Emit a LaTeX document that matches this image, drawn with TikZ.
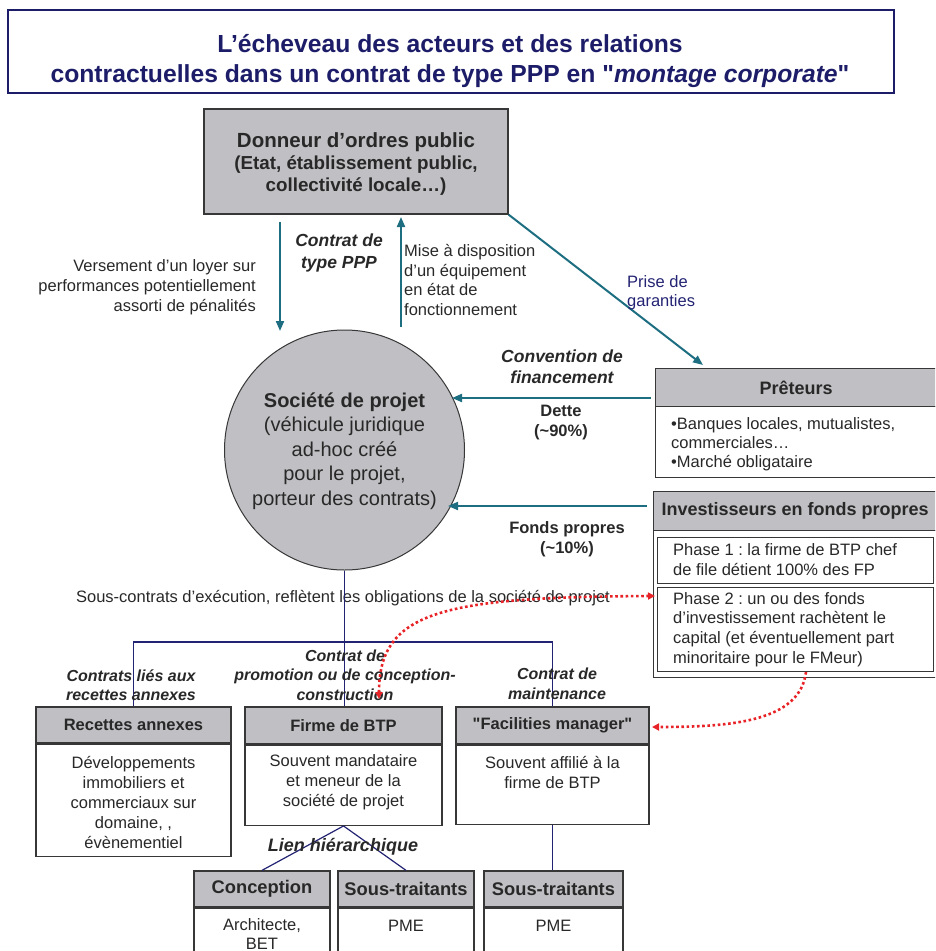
\documentclass[tikz,border=0pt]{standalone}
\usepackage{fontspec}
\setmainfont{Liberation Sans}[Ligatures=TeXOff]
\usetikzlibrary{arrows.meta}
\definecolor{arrowteal}{RGB}{30,110,130}
\definecolor{linenavy}{RGB}{35,35,115}
\definecolor{titlenavy}{RGB}{28,28,105}
\definecolor{boxgray}{RGB}{192,192,196}
\definecolor{txtgray}{RGB}{40,40,40}
\definecolor{boxline}{RGB}{55,55,55}
\definecolor{dotred}{RGB}{232,35,40}
\newcommand{\fs}[2]{\fontsize{#1}{#2}\selectfont}
\frenchspacing
\begin{document}
\begin{tikzpicture}[x=1pt,y=-1pt,
  hdr/.style={draw=boxline, line width=1.3pt, fill=boxgray, text=txtgray, font=\fs{16.5}{20}\bfseries, inner sep=0pt},
  bodybox/.style={draw=boxline, line width=1.3pt, fill=white, inner sep=0pt},
  lbl/.style={text=txtgray, align=center, inner sep=0pt, font=\fs{16.5}{20}},
  ital/.style={lbl, font=\fs{16}{19.5}\bfseries\itshape},
  tarrow/.style={draw=arrowteal, line width=2pt, -{Triangle[length=10pt,width=8pt]}},
  navyline/.style={draw=linenavy, line width=1.2pt},
  reddots/.style={draw=dotred, line width=2.6pt, dash pattern=on 2.6pt off 2.6pt},
]
\path[use as bounding box, clip] (0,0) rectangle (935,951);

% title
\node[draw=titlenavy, line width=2pt, minimum width=886pt, minimum height=83pt, inner sep=0pt] (titlebox) at (451,51.5) {};
\node[lbl, text=titlenavy, font=\fs{24.7}{30}\bfseries] (title) at (450,61) {L’écheveau des acteurs et des relations\\contractuelles dans un contrat de type PPP en "\textit{montage corporate}"};

% public authority
\node[hdr, minimum width=304pt, minimum height=105pt] (don) at (356,161.5) {};
\node[lbl, font=\fs{18.8}{22}\bfseries] (dontxt) at (356,164) {{\fs{20.5}{22}Donneur d’ordres public}\\(Etat, établissement public,\\collectivité locale…)};

% project company
\node[circle, draw=boxline, line width=1pt, fill=boxgray, minimum size=240pt, inner sep=0pt] (soc) at (344.5,450) {};
\node[lbl, font=\fs{20}{24.5}] (soctxt) at (344.5,451) {{\bfseries Société de projet}\\(véhicule juridique\\ad-hoc créé\\pour le projet,\\porteur des contrats)};

% arrows between authority and company
\coordinate (loyerA) at (280,222);
\coordinate (loyerB) at (280,331);
\coordinate (miseA) at (401,327);
\coordinate (miseB) at (401,217);
\draw[tarrow] (loyerA) -- (loyerB);
\draw[tarrow] (miseA) -- (miseB);
\node[lbl, font=\fs{17.5}{22}\bfseries\itshape] (cppp) at (339,253) {Contrat de\\type PPP};
\node[lbl, align=right, anchor=east] (loyer) at (256,287) {Versement d’un loyer sur\\performances potentiellement\\assorti de pénalités};
\node[lbl, align=left, anchor=west, font=\fs{16.5}{19.7}] (mise) at (404,280) {Mise à disposition\\d’un équipement\\en état de\\fonctionnement};

% lenders
\node[hdr, font=\fs{18}{22}\bfseries, minimum width=281pt, minimum height=38pt, anchor=north west] (preth) at (655,368) {Prêteurs};
\node[bodybox, minimum width=281pt, minimum height=71pt, anchor=north west] (pretb) at (655,406) {};
\node[lbl, align=left, anchor=west, font=\fs{16.5}{19}] (prettxt) at (671,444) {•Banques locales, mutualistes,\\commerciales…\\•Marché obligataire};

\coordinate (garB) at (703,365);
\draw[tarrow] (don.south east) -- (garB);
\node[lbl, align=left, anchor=west, text=linenavy, font=\fs{16.5}{19}] (prise) at (627,292.5) {Prise de\\garanties};

\coordinate (detteA) at (651,398);
\coordinate (detteB) at (452,398);
\draw[tarrow] (detteA) -- (detteB);
\node[lbl, font=\fs{17.5}{21}\bfseries\itshape] (conv) at (562,366.5) {Convention de\\financement};
\node[lbl, font=\fs{16.5}{20}\bfseries] (dette) at (561,423) {Dette\\(\textasciitilde90\%)};

% equity investors
\node[hdr, font=\fs{18}{22}\bfseries, minimum width=283pt, minimum height=39pt, anchor=north west] (invh) at (653,491) {Investisseurs en fonds propres};
\node[bodybox, minimum width=283pt, minimum height=147pt, anchor=north west] (invb) at (653,530) {};
\node[bodybox, minimum width=276pt, minimum height=46pt, anchor=north west] (ph1) at (657,537) {};
\node[bodybox, minimum width=276pt, minimum height=84pt, anchor=north west] (ph2) at (657,587) {};
\node[lbl, align=left, anchor=west] (ph1txt) at (673,560) {Phase 1 : la firme de BTP chef\\de file détient 100\% des FP};
\node[lbl, align=left, anchor=west, font=\fs{16.5}{19.7}] (ph2txt) at (673,629.5) {Phase 2 : un ou des fonds\\d’investissement rachètent le\\capital (et éventuellement part\\minoritaire pour le FMeur)};

\coordinate (fondsA) at (647,506);
\coordinate (fondsB) at (448,506);
\draw[tarrow] (fondsA) -- (fondsB);
\node[lbl, font=\fs{16.5}{20}\bfseries] (fonds) at (567,539) {Fonds propres\\(\textasciitilde10\%)};

% sub-contracts
\node[lbl] (sousc) at (343,598) {Sous-contrats d’exécution, reflètent les obligations de la société de projet};

\node[hdr, minimum width=195pt, minimum height=36pt] (rech) at (133.5,725) {Recettes annexes};
\node[bodybox, minimum width=195pt, minimum height=112pt, anchor=north] (recb) at (rech.south) {};
\node[lbl] (rectxt) at (133.5,802) {Développements\\immobiliers et\\commerciaux sur\\domaine, ,\\évènementiel};

\node[hdr, minimum width=197pt, minimum height=37pt] (firh) at (343.5,725.5) {Firme de BTP};
\node[bodybox, minimum width=197pt, minimum height=80pt, anchor=north] (firb) at (firh.south) {};
\node[lbl] (firtxt) at (343.5,782) {Souvent mandataire\\et meneur de la\\société de projet};

\node[hdr, minimum width=193pt, minimum height=37pt] (fmh) at (552.5,725.5) {"Facilities manager"};
\node[bodybox, minimum width=193pt, minimum height=79pt, anchor=north] (fmb) at (fmh.south) {};
\node[lbl] (fmtxt) at (552.5,772) {Souvent affilié à la\\firme de BTP};

\node[hdr, font=\fs{18.3}{22}\bfseries, minimum width=136pt, minimum height=36pt] (conh) at (262,889) {Conception};
\node[bodybox, minimum width=136pt, minimum height=60pt, anchor=north] (conb) at (conh.south) {};
\node[lbl, font=\fs{16.5}{19}] (contxt) at (262,934.5) {Architecte,\\BET};

\node[hdr, font=\fs{18.3}{22}\bfseries, minimum width=136pt, minimum height=36pt] (st1h) at (406,889) {Sous-traitants};
\node[bodybox, minimum width=136pt, minimum height=60pt, anchor=north] (st1b) at (st1h.south) {};
\node[lbl] (st1txt) at (406,926) {PME};

\node[hdr, font=\fs{18.3}{22}\bfseries, minimum width=139pt, minimum height=36pt] (st2h) at (553.5,889) {Sous-traitants};
\node[bodybox, minimum width=139pt, minimum height=60pt, anchor=north] (st2b) at (st2h.south) {};
\node[lbl] (st2txt) at (553.5,926) {PME};

% tree connectors
\coordinate (bar) at (344,642);
\draw[navyline] (soc.south) -- (soc.south |- firh.north);
\draw[navyline] (rech.north) |- (bar) -| (fmh.north);
\draw[navyline] (firb.south) -- (conh.north);
\draw[navyline] (firb.south) -- (st1h.north);
\draw[navyline] (fmb.south) -- (fmb.south |- st2h.north);

\node[ital] (lrec) at (131,685) {Contrats liés aux\\recettes annexes};
\node[ital] (lprom) at (345,675) {Contrat de\\promotion ou de conception-\\construction};
\node[ital] (lmaint) at (557,684) {Contrat de\\maintenance};
\node[lbl, font=\fs{18}{22}\bfseries\itshape] (lien) at (343,847) {Lien hiérarchique};

% red dotted links
\coordinate (r1a) at (379,699);
\coordinate (r1b) at (655,596);
\draw[reddots, {Triangle[length=7pt,width=7pt]}-{Triangle[length=7pt,width=7pt]}] (r1a) .. controls (379,612) and (440,597) .. (r1b);
\coordinate (r2a) at (806,672);
\coordinate (r2b) at (652,727);
\draw[reddots, -{Triangle[length=7pt,width=7pt]}] (r2a) .. controls (800,722) and (730,727) .. (r2b);
\end{tikzpicture}
\end{document}
